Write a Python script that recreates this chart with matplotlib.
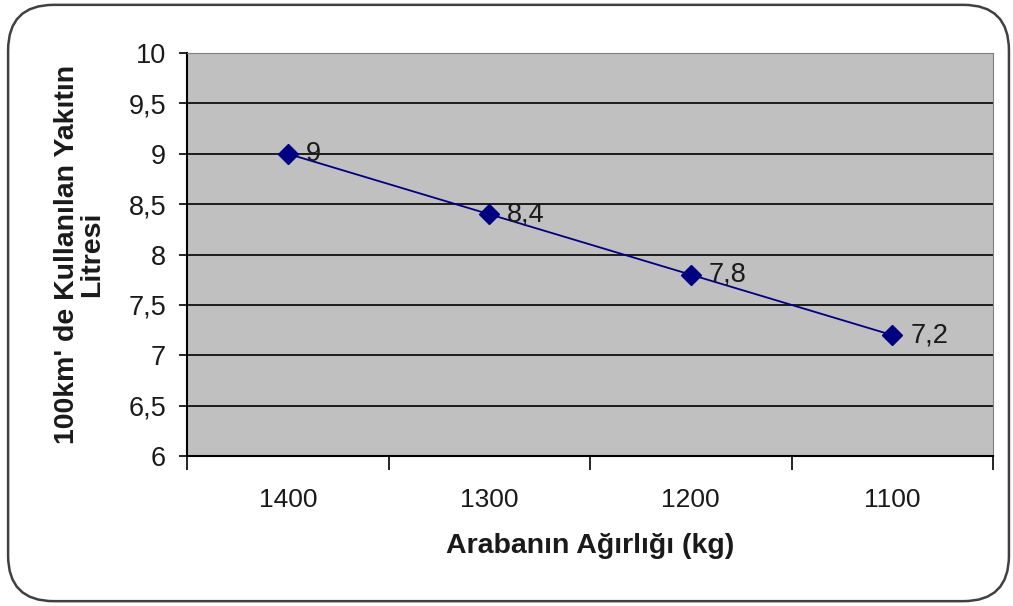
import matplotlib.pyplot as plt
from matplotlib.patches import FancyBboxPatch
import numpy as np

plt.rcParams['font.family'] = ['Liberation Sans', 'DejaVu Sans']

weights = ['1400', '1300', '1200', '1100']
fuel = [9, 8.4, 7.8, 7.2]
labels = ['9', '8,4', '7,8', '7,2']
yticks = [6, 6.5, 7, 7.5, 8, 8.5, 9, 9.5, 10]

fig = plt.figure(figsize=(10.13, 6.06), dpi=100)
border = FancyBboxPatch((0.008, 0.008), 0.988, 0.984, transform=fig.transFigure,
                        boxstyle='round,pad=0,rounding_size=0.045', fc='none',
                        ec='#404040', lw=1.8, mutation_aspect=1013 / 606, zorder=5)
fig.patches.append(border)

ax = fig.add_axes([0.1846, 0.2475, 0.7957, 0.665])
ax.set_facecolor('#c0c0c0')
x = np.arange(len(weights))
ax.plot(x, fuel, color='#000080', lw=1.3, marker='D', ms=10, mec='#000080', mfc='#000080')
for xi, yi, t in zip(x, fuel, labels):
    ax.annotate(t, (xi, yi), xytext=(13, 0), textcoords='offset points',
                va='center', ha='left', fontsize=19.5, color='#1a1a1a')

ax.set_xlim(-0.5, 3.5)
ax.set_ylim(6, 10)
ax.set_yticks(yticks)
ax.set_yticklabels([str(v).replace('.', ',').replace(',0', '') for v in yticks],
                   fontsize=19.5, color='#1a1a1a')
ax.yaxis.grid(True, color='black', lw=1.2)
ax.set_axisbelow(True)

ax.set_xticks(np.arange(-0.5, 4, 1))
ax.set_xticklabels([])
ax.set_xticks(x, minor=True)
ax.set_xticklabels(weights, minor=True, fontsize=19, color='#1a1a1a')
ax.tick_params(axis='x', which='major', direction='out', length=10, width=1.2)
ax.tick_params(axis='x', which='minor', length=0, pad=23)
ax.tick_params(axis='y', direction='out', length=6, width=1.2, pad=9)

for s in ['top', 'right']:
    ax.spines[s].set_color('#808080')
for s in ['left', 'bottom']:
    ax.spines[s].set_color('black')
    ax.spines[s].set_linewidth(1.5)

ax.set_xlabel('Arabanın Ağırlığı (kg)', fontsize=20.5, fontweight='bold', labelpad=15,
              color='#1a1a1a')
ax.set_ylabel("100km' de Kullanılan Yakıtın\nLitresi", fontsize=20.5, fontweight='bold',
              labelpad=17, color='#1a1a1a', linespacing=0.93)

fig.savefig('out.png', dpi=100)
